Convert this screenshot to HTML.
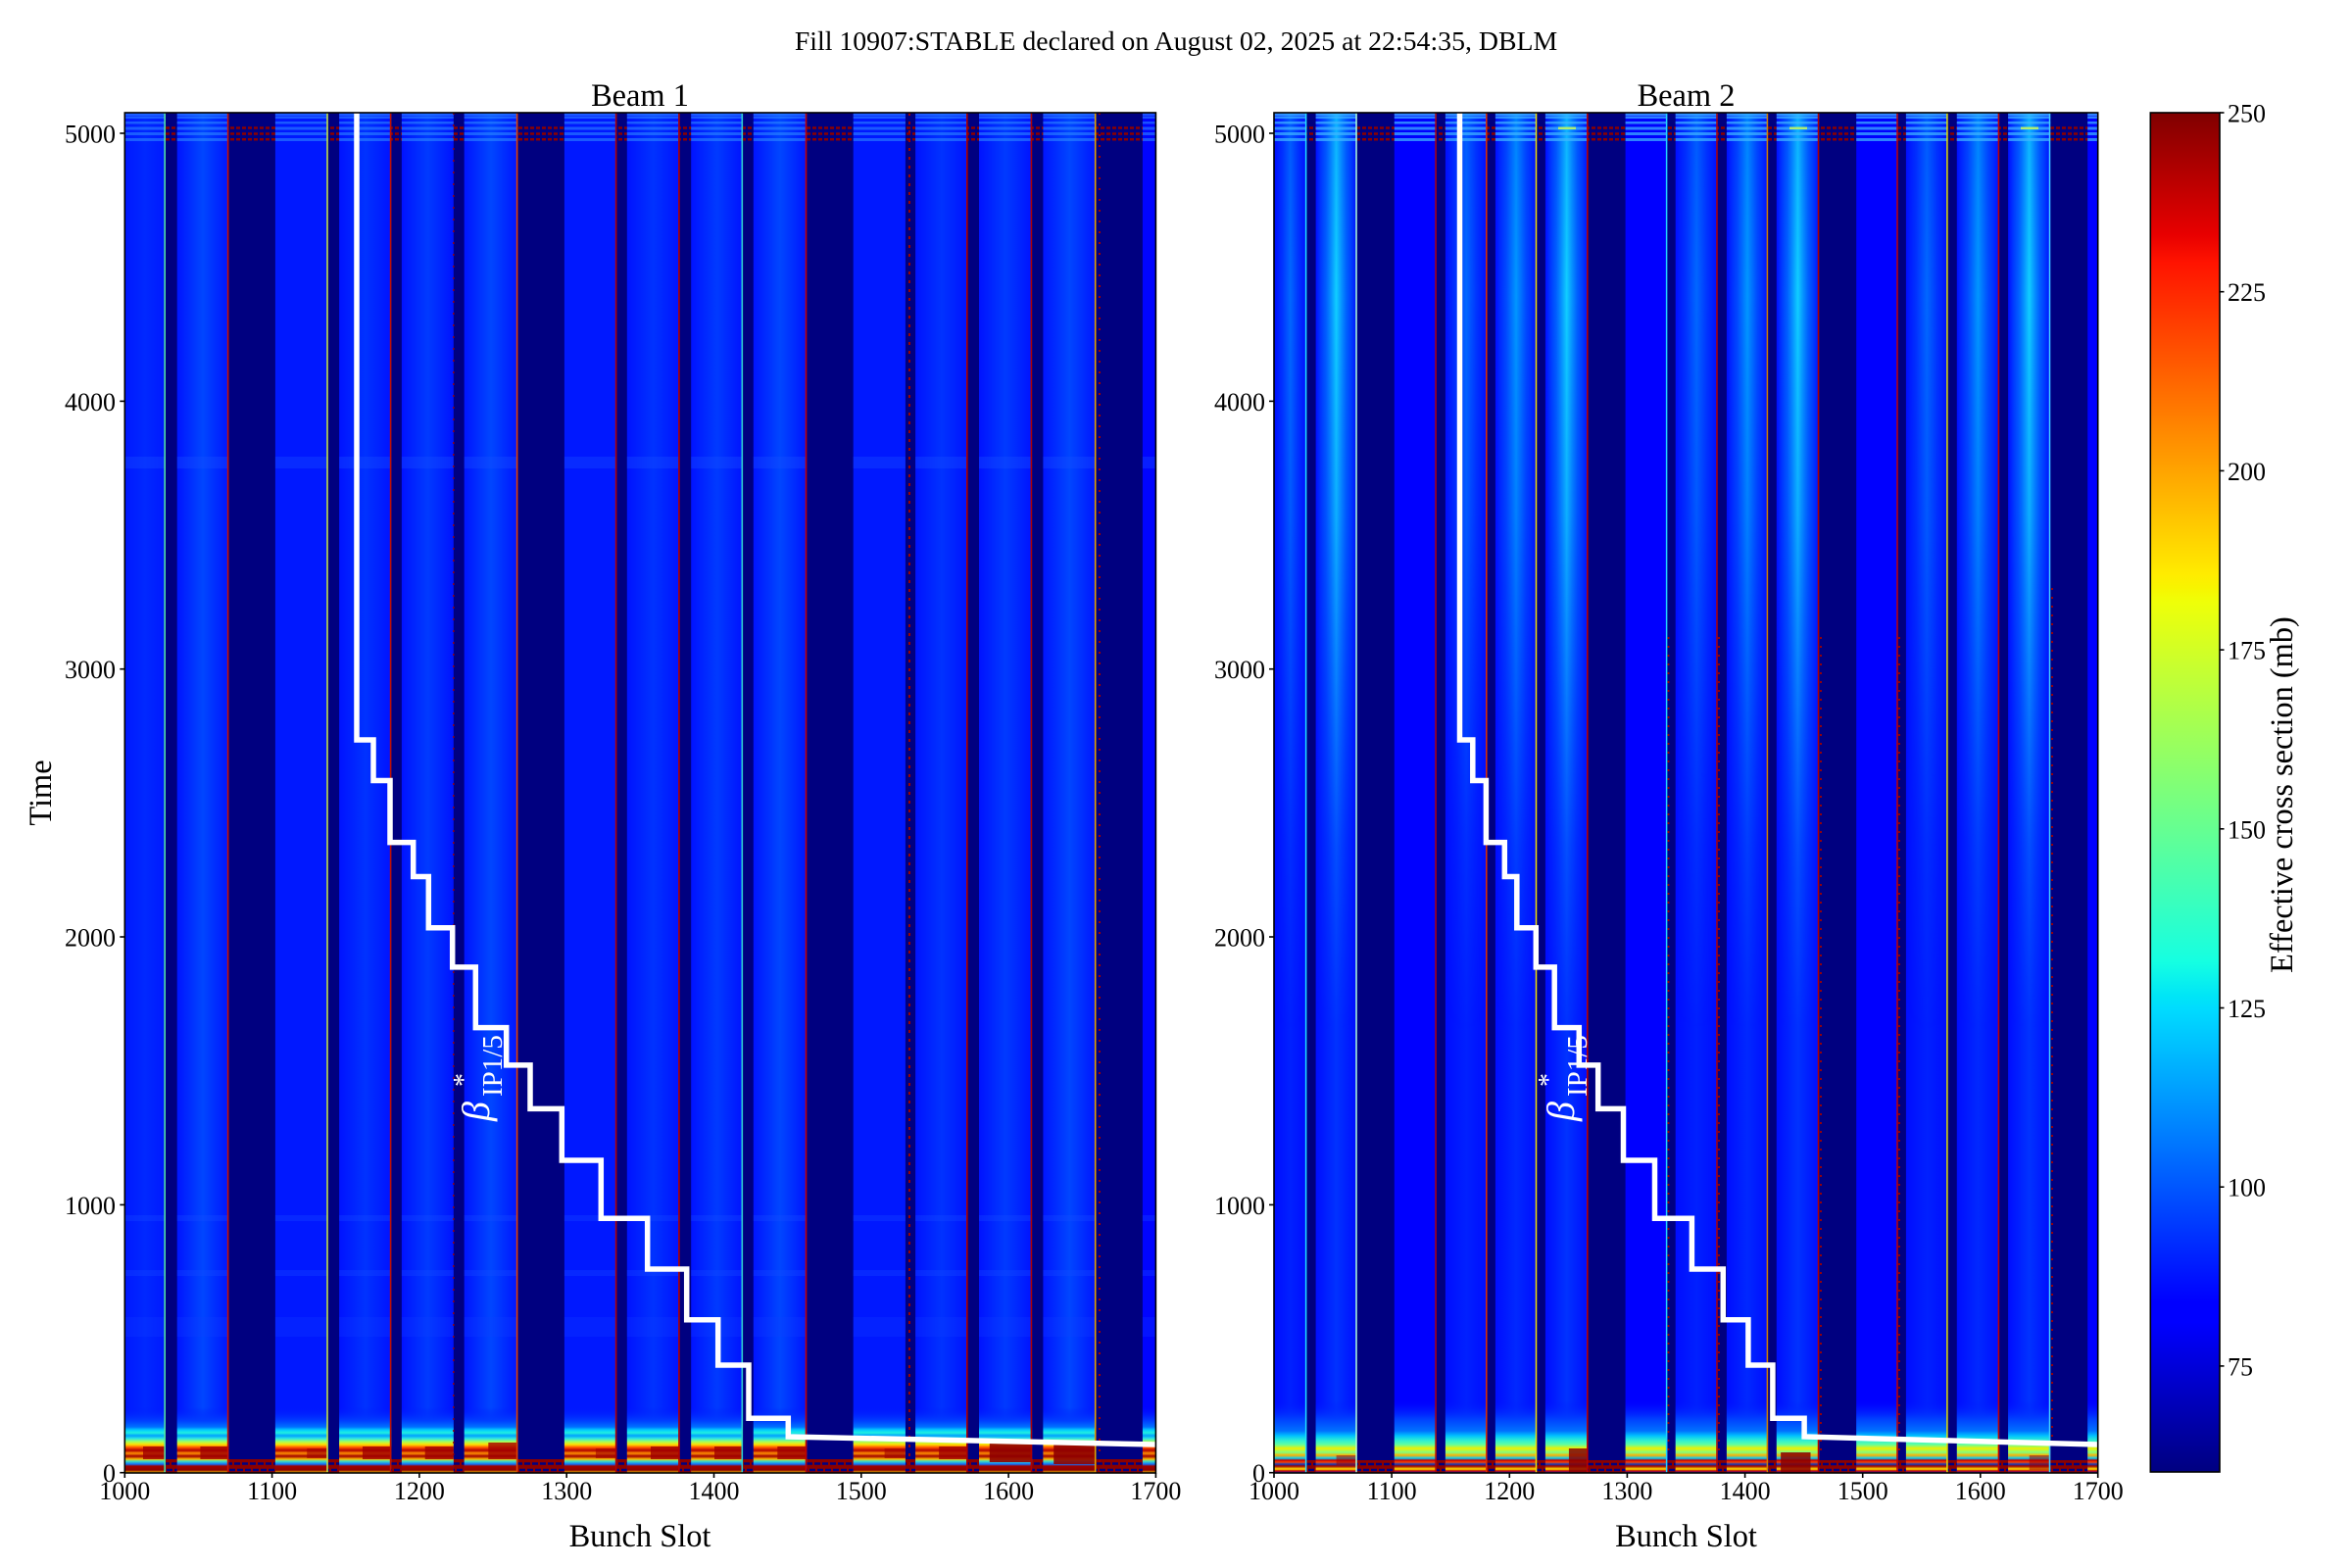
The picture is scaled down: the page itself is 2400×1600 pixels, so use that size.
<!DOCTYPE html>
<html>
<head>
<meta charset="utf-8">
<style>
html,body{margin:0;padding:0;background:#fff;}
body{width:2400px;height:1600px;overflow:hidden;}
svg{display:block;}
text{font-family:"Liberation Serif","DejaVu Serif",serif;fill:#000;}
</style>
</head>
<body>
<svg width="2400" height="1600" viewBox="0 0 2400 1600" xmlns="http://www.w3.org/2000/svg">
<defs>
  <clipPath id="ax1"><rect x="127.3" y="115" width="1052.1" height="1388"/></clipPath>
  <clipPath id="ax2"><rect x="1300" y="115" width="840.7" height="1388"/></clipPath>
  <clipPath id="tr1">
    <rect x="127.3" y="115" width="41.6" height="1388"/>
    <rect x="180.7" y="115" width="52.6" height="1388"/>
    <rect x="280.9" y="115" width="53.8" height="1388"/>
    <rect x="346.1" y="115" width="53.2" height="1388"/>
    <rect x="409.9" y="115" width="52.9" height="1388"/>
    <rect x="473.7" y="115" width="54.6" height="1388"/>
    <rect x="575.9" y="115" width="53.4" height="1388"/>
    <rect x="639.8" y="115" width="53.8" height="1388"/>
    <rect x="705.2" y="115" width="52.8" height="1388"/>
    <rect x="768.8" y="115" width="54.4" height="1388"/>
    <rect x="870.7" y="115" width="53.2" height="1388"/>
    <rect x="934.1" y="115" width="53.4" height="1388"/>
    <rect x="999" y="115" width="54.1" height="1388"/>
    <rect x="1064.4" y="115" width="54" height="1388"/>
    <rect x="1165.9" y="115" width="13.5" height="1388"/>
  </clipPath>
  <clipPath id="tr2">
    <rect x="1300" y="115" width="33.3" height="1388"/>
    <rect x="1342.6" y="115" width="42.1" height="1388"/>
    <rect x="1422.8" y="115" width="43" height="1388"/>
    <rect x="1474.9" y="115" width="42.6" height="1388"/>
    <rect x="1525.9" y="115" width="42.3" height="1388"/>
    <rect x="1576.9" y="115" width="43.6" height="1388"/>
    <rect x="1658.6" y="115" width="42.7" height="1388"/>
    <rect x="1709.7" y="115" width="43" height="1388"/>
    <rect x="1761.9" y="115" width="42.2" height="1388"/>
    <rect x="1812.8" y="115" width="43.4" height="1388"/>
    <rect x="1894.2" y="115" width="42.5" height="1388"/>
    <rect x="1944.9" y="115" width="42.7" height="1388"/>
    <rect x="1996.8" y="115" width="43.3" height="1388"/>
    <rect x="2049.1" y="115" width="43.1" height="1388"/>
    <rect x="2130.2" y="115" width="10.5" height="1388"/>
  </clipPath>

  <linearGradient id="jet" x1="0" y1="1" x2="0" y2="0">
    <stop offset="0" stop-color="#000080"/>
    <stop offset="0.11" stop-color="#0000ff"/>
    <stop offset="0.125" stop-color="#0000ff"/>
    <stop offset="0.34" stop-color="#00dbff"/>
    <stop offset="0.35" stop-color="#00e5f7"/>
    <stop offset="0.375" stop-color="#15ffe2"/>
    <stop offset="0.64" stop-color="#efff08"/>
    <stop offset="0.65" stop-color="#f7f500"/>
    <stop offset="0.66" stop-color="#ffec00"/>
    <stop offset="0.89" stop-color="#ff1300"/>
    <stop offset="0.91" stop-color="#e80000"/>
    <stop offset="1" stop-color="#800000"/>
  </linearGradient>

  <linearGradient id="f10" x1="0" x2="1" y1="0" y2="0"><stop offset="0" stop-color="#0018ff"/><stop offset=".5" stop-color="#0028ff"/><stop offset="1" stop-color="#0018ff"/></linearGradient>
  <linearGradient id="f1B" x1="0" x2="1" y1="0" y2="0"><stop offset="0" stop-color="#0012ff"/><stop offset=".5" stop-color="#0032ff"/><stop offset="1" stop-color="#0012ff"/></linearGradient>
  <linearGradient id="f1C" x1="0" x2="1" y1="0" y2="0"><stop offset="0" stop-color="#0012ff"/><stop offset=".5" stop-color="#003aff"/><stop offset="1" stop-color="#0012ff"/></linearGradient>
  <linearGradient id="f1D" x1="0" x2="1" y1="0" y2="0"><stop offset="0" stop-color="#0014ff"/><stop offset=".5" stop-color="#0046ff"/><stop offset="1" stop-color="#0014ff"/></linearGradient>

  <linearGradient id="f2B" x1="0" x2="1" y1="0" y2="0"><stop offset="0" stop-color="#000cff"/><stop offset=".5" stop-color="#0020ff"/><stop offset="1" stop-color="#000cff"/></linearGradient>
  <linearGradient id="f2C" x1="0" x2="1" y1="0" y2="0"><stop offset="0" stop-color="#000cff"/><stop offset=".5" stop-color="#0028ff"/><stop offset="1" stop-color="#000cff"/></linearGradient>
  <linearGradient id="f2D" x1="0" x2="1" y1="0" y2="0"><stop offset="0" stop-color="#000cff"/><stop offset=".5" stop-color="#0032ff"/><stop offset="1" stop-color="#000cff"/></linearGradient>

  <linearGradient id="o2B" x1="0" x2="1" y1="0" y2="0"><stop offset="0" stop-color="#0060ff" stop-opacity="0"/><stop offset=".25" stop-color="#0060ff" stop-opacity=".4"/><stop offset=".5" stop-color="#0068ff" stop-opacity="1"/><stop offset=".75" stop-color="#0060ff" stop-opacity=".4"/><stop offset="1" stop-color="#0060ff" stop-opacity="0"/></linearGradient>
  <linearGradient id="o2C" x1="0" x2="1" y1="0" y2="0"><stop offset="0" stop-color="#0090ff" stop-opacity="0"/><stop offset=".25" stop-color="#0080ff" stop-opacity=".45"/><stop offset=".5" stop-color="#0098ff" stop-opacity="1"/><stop offset=".75" stop-color="#0080ff" stop-opacity=".45"/><stop offset="1" stop-color="#0090ff" stop-opacity="0"/></linearGradient>
  <linearGradient id="o2D" x1="0" x2="1" y1="0" y2="0"><stop offset="0" stop-color="#00b0ff" stop-opacity="0"/><stop offset=".25" stop-color="#00a0ff" stop-opacity=".5"/><stop offset=".5" stop-color="#10d0ff" stop-opacity="1"/><stop offset=".75" stop-color="#00a0ff" stop-opacity=".5"/><stop offset="1" stop-color="#00b0ff" stop-opacity="0"/></linearGradient>

  <linearGradient id="vf" gradientUnits="userSpaceOnUse" x1="0" y1="115" x2="0" y2="1050">
    <stop offset="0" stop-color="#d0d0d0"/>
    <stop offset=".2" stop-color="#ffffff"/>
    <stop offset=".44" stop-color="#cccccc"/>
    <stop offset=".62" stop-color="#808080"/>
    <stop offset=".8" stop-color="#303030"/>
    <stop offset="1" stop-color="#000000"/>
  </linearGradient>
  <mask id="m2" maskUnits="userSpaceOnUse" x="1300" y="115" width="841" height="1388">
    <rect x="1300" y="115" width="841" height="940" fill="url(#vf)"/>
  </mask>

  <linearGradient id="b1" gradientUnits="userSpaceOnUse" x1="0" y1="1436" x2="0" y2="1503">
    <stop offset="0" stop-color="#0018ff" stop-opacity="0"/>
    <stop offset=".209" stop-color="#0040ff"/>
    <stop offset=".299" stop-color="#0070ff"/>
    <stop offset=".343" stop-color="#00c8ff"/>
    <stop offset=".388" stop-color="#20f0e0"/>
    <stop offset=".433" stop-color="#00a0ff"/>
    <stop offset=".478" stop-color="#30e8e0"/>
    <stop offset=".522" stop-color="#a0ff60"/>
    <stop offset=".567" stop-color="#ffe000"/>
    <stop offset=".612" stop-color="#ff5000"/>
    <stop offset=".657" stop-color="#b00000"/>
    <stop offset=".701" stop-color="#ff9000"/>
    <stop offset=".746" stop-color="#a00000"/>
    <stop offset=".791" stop-color="#ffc000"/>
    <stop offset=".821" stop-color="#40e0c0"/>
    <stop offset=".866" stop-color="#1070ff"/>
    <stop offset=".896" stop-color="#a00000"/>
    <stop offset=".955" stop-color="#900000"/>
    <stop offset="1" stop-color="#f0d000"/>
  </linearGradient>
  <linearGradient id="b2" gradientUnits="userSpaceOnUse" x1="0" y1="1430" x2="0" y2="1503">
    <stop offset="0" stop-color="#0018ff" stop-opacity="0"/>
    <stop offset=".247" stop-color="#0040ff"/>
    <stop offset=".411" stop-color="#0070ff"/>
    <stop offset=".479" stop-color="#00c0ff"/>
    <stop offset=".548" stop-color="#30f0d0"/>
    <stop offset=".603" stop-color="#60ffa0"/>
    <stop offset=".658" stop-color="#f0f000"/>
    <stop offset=".712" stop-color="#80ff80"/>
    <stop offset=".753" stop-color="#ffb000"/>
    <stop offset=".795" stop-color="#00d0ff"/>
    <stop offset=".822" stop-color="#c00000"/>
    <stop offset=".849" stop-color="#ff4000"/>
    <stop offset=".877" stop-color="#1040c0"/>
    <stop offset=".904" stop-color="#a00000"/>
    <stop offset=".945" stop-color="#ffe000"/>
    <stop offset=".973" stop-color="#c00000"/>
    <stop offset="1" stop-color="#1030ff"/>
  </linearGradient>
</defs>

<text x="1200" y="51" font-size="27.8" text-anchor="middle">Fill 10907:STABLE declared on August 02, 2025 at 22:54:35, DBLM</text>

<!-- BEAM 1 -->
<text x="653" y="108" font-size="32.4" text-anchor="middle">Beam 1</text>
<g clip-path="url(#ax1)">
  <rect x="127.3" y="115" width="1052.1" height="1388" fill="#000080"/>
  <g stroke="#8c0000" stroke-width="2.5" stroke-dasharray="4 2" fill="none">
    <line x1="127" y1="130.5" x2="1180" y2="130.5"/>
    <line x1="127" y1="136.5" x2="1180" y2="136.5"/>
    <line x1="127" y1="142.3" x2="1180" y2="142.3"/>
  </g>
  <rect x="127.3" y="1489" width="1052.1" height="14" fill="#8c0000"/>
  <g stroke="#000080" stroke-width="2.5" stroke-dasharray="6 2" fill="none">
    <line x1="127" y1="1493.5" x2="1180" y2="1493.5"/>
    <line x1="130" y1="1500" x2="1180" y2="1500"/>
  </g>
  <rect x="127.3" y="115" width="41.6" height="1388" fill="url(#f10)"/>
  <rect x="180.7" y="115" width="52.6" height="1388" fill="url(#f1D)"/>
  <rect x="280.9" y="115" width="53.8" height="1388" fill="#0018ff"/>
  <rect x="346.1" y="115" width="53.2" height="1388" fill="url(#f1B)"/>
  <rect x="409.9" y="115" width="52.9" height="1388" fill="url(#f1C)"/>
  <rect x="473.7" y="115" width="54.6" height="1388" fill="url(#f1D)"/>
  <rect x="575.9" y="115" width="53.4" height="1388" fill="#0018ff"/>
  <rect x="639.8" y="115" width="53.8" height="1388" fill="url(#f1B)"/>
  <rect x="705.2" y="115" width="52.8" height="1388" fill="url(#f1C)"/>
  <rect x="768.8" y="115" width="54.4" height="1388" fill="url(#f1D)"/>
  <rect x="870.7" y="115" width="53.2" height="1388" fill="#0018ff"/>
  <rect x="934.1" y="115" width="53.4" height="1388" fill="url(#f1B)"/>
  <rect x="999" y="115" width="54.1" height="1388" fill="url(#f1C)"/>
  <rect x="1064.4" y="115" width="54" height="1388" fill="url(#f1D)"/>
  <rect x="1165.9" y="115" width="13.5" height="1388" fill="#0004ff"/>
  <g clip-path="url(#tr1)">
    <g fill="#3090ff" opacity=".55">
      <rect x="127" y="115" width="1053" height="3"/>
      <rect x="127" y="118.5" width="1053" height="2.5"/>
      <rect x="127" y="124" width="1053" height="2.5"/>
      <rect x="127" y="129.5" width="1053" height="3"/>
      <rect x="127" y="135" width="1053" height="3"/>
      <rect x="127" y="141" width="1053" height="3"/>
    </g>
    <rect x="127" y="466" width="1053" height="12" fill="#1850ff" opacity=".35"/>
    <rect x="127" y="1240" width="1053" height="6" fill="#1850ff" opacity=".3"/>
    <rect x="127" y="1296" width="1053" height="6" fill="#1850ff" opacity=".3"/>
    <rect x="127" y="1344" width="1053" height="20" fill="#1040ff" opacity=".25"/>
    <rect x="127.3" y="1436" width="1052.1" height="67" fill="url(#b1)"/>
    <g fill="#a00000" opacity=".8">
      <rect x="146.0" y="1476" width="22.9" height="13"/>
      <rect x="204.4" y="1476" width="28.9" height="13"/>
      <rect x="370.0" y="1476" width="29.3" height="13"/>
      <rect x="433.7" y="1476" width="29.1" height="13"/>
      <rect x="498.3" y="1472" width="30.0" height="17"/>
      <rect x="664.0" y="1476" width="29.6" height="13"/>
      <rect x="729.0" y="1476" width="29.0" height="13"/>
      <rect x="793.3" y="1476" width="29.9" height="13"/>
      <rect x="958.1" y="1476" width="29.4" height="13"/>
    </g>
    <g fill="#900000" opacity=".9">
      <rect x="1009.8" y="1470" width="43.3" height="22"/>
      <rect x="1075.2" y="1472" width="43.2" height="22"/>
    </g>
    <g fill="#a00000" opacity=".6">
      <rect x="313.2" y="1478" width="21.5" height="10"/>
      <rect x="607.9" y="1478" width="21.4" height="10"/>
      <rect x="902.6" y="1478" width="21.3" height="10"/>
    </g>
  </g>
  <g stroke-width="1.6" fill="none">
    <line x1="168.2" y1="115" x2="168.2" y2="1503" stroke="#50e0a0"/>
    <line x1="232.6" y1="115" x2="232.6" y2="1503" stroke="#c81000"/>
    <line x1="334" y1="115" x2="334" y2="1503" stroke="#c0e040"/>
    <line x1="398.6" y1="115" x2="398.6" y2="1503" stroke="#c01000"/>
    <line x1="462.8" y1="115" x2="462.8" y2="1503" stroke="#a00000" stroke-width="1.3" stroke-dasharray="2 10"/>
    <line x1="527.6" y1="115" x2="527.6" y2="1503" stroke="#e04000"/>
    <line x1="628.6" y1="115" x2="628.6" y2="1503" stroke="#b00000"/>
    <line x1="692.9" y1="115" x2="692.9" y2="1503" stroke="#b00000"/>
    <line x1="757.3" y1="115" x2="757.3" y2="1503" stroke="#30d0d0"/>
    <line x1="822.5" y1="115" x2="822.5" y2="1503" stroke="#c00000"/>
    <line x1="928" y1="115" x2="928" y2="1503" stroke="#a00000" stroke-width="2" stroke-dasharray="3 6"/>
    <line x1="986.8" y1="115" x2="986.8" y2="1503" stroke="#b00000"/>
    <line x1="1052.4" y1="115" x2="1052.4" y2="1503" stroke="#b00000"/>
    <line x1="1117.7" y1="115" x2="1117.7" y2="1503" stroke="#e0a000"/>
    <line x1="1122" y1="115" x2="1122" y2="1503" stroke="#a00000" stroke-width="2" stroke-dasharray="2 9"/>
  </g>
  <polyline fill="none" stroke="#ffffff" stroke-width="5.5" stroke-linejoin="miter"
    points="364,110 364,755 381,755 381,796.5 398,796.5 398,859.6 421.7,859.6 421.7,894.5 437.3,894.5 437.3,946.7 461.7,946.7 461.7,986.9 485.3,986.9 485.3,1048.6 516.7,1048.6 516.7,1086.9 541,1086.9 541,1131.4 573.3,1131.4 573.3,1184 613.3,1184 613.3,1243.3 660.7,1243.3 660.7,1295 700.7,1295 700.7,1346.7 732.7,1346.7 732.7,1393 764,1393 764,1447.2 804.3,1447.2 804.3,1466 1185,1474.1"/>
  <text transform="translate(499,1144) rotate(-90)" font-size="40" font-style="italic" style="fill:#fff">β</text>
  <text transform="translate(482,1109) rotate(-90)" font-size="28" style="fill:#fff">*</text>
  <text transform="translate(512,1119) rotate(-90)" font-size="29" style="fill:#fff">IP1/5</text>
</g>
<rect x="127.3" y="115" width="1052.1" height="1388" fill="none" stroke="#000" stroke-width="1.6"/>
<g stroke="#000" stroke-width="1.6">
  <line x1="127.3" y1="1503" x2="127.3" y2="1508"/>
  <line x1="277.6" y1="1503" x2="277.6" y2="1508"/>
  <line x1="427.9" y1="1503" x2="427.9" y2="1508"/>
  <line x1="578.2" y1="1503" x2="578.2" y2="1508"/>
  <line x1="728.5" y1="1503" x2="728.5" y2="1508"/>
  <line x1="878.8" y1="1503" x2="878.8" y2="1508"/>
  <line x1="1029.1" y1="1503" x2="1029.1" y2="1508"/>
  <line x1="1179.4" y1="1503" x2="1179.4" y2="1508"/>
  <line x1="122.3" y1="1502.7" x2="127.3" y2="1502.7"/>
  <line x1="122.3" y1="1229.4" x2="127.3" y2="1229.4"/>
  <line x1="122.3" y1="956" x2="127.3" y2="956"/>
  <line x1="122.3" y1="682.7" x2="127.3" y2="682.7"/>
  <line x1="122.3" y1="409.4" x2="127.3" y2="409.4"/>
  <line x1="122.3" y1="136" x2="127.3" y2="136"/>
</g>
<g font-size="26" text-anchor="middle">
  <text x="127.3" y="1530">1000</text>
  <text x="277.6" y="1530">1100</text>
  <text x="427.9" y="1530">1200</text>
  <text x="578.2" y="1530">1300</text>
  <text x="728.5" y="1530">1400</text>
  <text x="878.8" y="1530">1500</text>
  <text x="1029.1" y="1530">1600</text>
  <text x="1179.4" y="1530">1700</text>
</g>
<g font-size="26" text-anchor="end">
  <text x="118" y="1512.2">0</text>
  <text x="118" y="1238.9">1000</text>
  <text x="118" y="965.5">2000</text>
  <text x="118" y="692.2">3000</text>
  <text x="118" y="418.9">4000</text>
  <text x="118" y="145.5">5000</text>
</g>
<text x="653" y="1578" font-size="32.4" text-anchor="middle">Bunch Slot</text>
<text transform="translate(52,809) rotate(-90)" font-size="32.4" text-anchor="middle">Time</text>

<!-- BEAM 2 -->
<text x="1720.5" y="108" font-size="32.4" text-anchor="middle">Beam 2</text>
<g clip-path="url(#ax2)">
  <rect x="1300" y="115" width="840.7" height="1388" fill="#000080"/>
  <g stroke="#8c0000" stroke-width="2.5" stroke-dasharray="4 2" fill="none">
    <line x1="1300" y1="130.5" x2="2141" y2="130.5"/>
    <line x1="1300" y1="136.5" x2="2141" y2="136.5"/>
    <line x1="1300" y1="142.3" x2="2141" y2="142.3"/>
  </g>
  <rect x="1300" y="1490" width="840.7" height="13" fill="#8c0000"/>
  <g stroke="#000080" stroke-width="2.5" stroke-dasharray="6 2" fill="none">
    <line x1="1300" y1="1494" x2="2141" y2="1494"/>
    <line x1="1303" y1="1500" x2="2141" y2="1500"/>
  </g>
  <rect x="1300" y="115" width="33.3" height="1388" fill="url(#f2B)"/>
  <rect x="1342.6" y="115" width="42.1" height="1388" fill="url(#f2D)"/>
  <rect x="1422.8" y="115" width="43" height="1388" fill="#0000ff"/>
  <rect x="1474.9" y="115" width="42.6" height="1388" fill="url(#f2B)"/>
  <rect x="1525.9" y="115" width="42.3" height="1388" fill="url(#f2C)"/>
  <rect x="1576.9" y="115" width="43.6" height="1388" fill="url(#f2D)"/>
  <rect x="1658.6" y="115" width="42.7" height="1388" fill="#0000ff"/>
  <rect x="1709.7" y="115" width="43" height="1388" fill="url(#f2B)"/>
  <rect x="1761.9" y="115" width="42.2" height="1388" fill="url(#f2C)"/>
  <rect x="1812.8" y="115" width="43.4" height="1388" fill="url(#f2D)"/>
  <rect x="1894.2" y="115" width="42.5" height="1388" fill="#0000ff"/>
  <rect x="1944.9" y="115" width="42.7" height="1388" fill="url(#f2B)"/>
  <rect x="1996.8" y="115" width="43.3" height="1388" fill="url(#f2C)"/>
  <rect x="2049.1" y="115" width="43.1" height="1388" fill="url(#f2D)"/>
  <rect x="2130.2" y="115" width="10.5" height="1388" fill="#0000ff"/>
  <g mask="url(#m2)">
    <rect x="1300" y="115" width="33.3" height="940" fill="url(#o2B)"/>
    <rect x="1342.6" y="115" width="42.1" height="940" fill="url(#o2D)"/>
    <rect x="1474.9" y="115" width="42.6" height="940" fill="url(#o2B)"/>
    <rect x="1525.9" y="115" width="42.3" height="940" fill="url(#o2C)"/>
    <rect x="1576.9" y="115" width="43.6" height="940" fill="url(#o2D)"/>
    <rect x="1709.7" y="115" width="43" height="940" fill="url(#o2B)"/>
    <rect x="1761.9" y="115" width="42.2" height="940" fill="url(#o2C)"/>
    <rect x="1812.8" y="115" width="43.4" height="940" fill="url(#o2D)"/>
    <rect x="1944.9" y="115" width="42.7" height="940" fill="url(#o2B)"/>
    <rect x="1996.8" y="115" width="43.3" height="940" fill="url(#o2C)"/>
    <rect x="2049.1" y="115" width="43.1" height="940" fill="url(#o2D)"/>
  </g>
  <g clip-path="url(#tr2)">
    <g fill="#40b8ff" opacity=".7">
      <rect x="1300" y="115" width="841" height="3"/>
      <rect x="1300" y="118.5" width="841" height="2.5"/>
      <rect x="1300" y="124" width="841" height="2.5"/>
      <rect x="1300" y="129.5" width="841" height="3"/>
      <rect x="1300" y="135" width="841" height="3"/>
      <rect x="1300" y="141" width="841" height="3"/>
    </g>
    <g fill="#d0ff50" opacity=".8">
      <rect x="1590" y="129.5" width="18" height="2.5"/>
      <rect x="1826" y="129.5" width="18" height="2.5"/>
      <rect x="2062" y="129.5" width="18" height="2.5"/>
    </g>
    <rect x="1300" y="1430" width="840.7" height="73" fill="url(#b2)"/>
    <g fill="#8a0000" opacity=".85">
      <rect x="1600.9" y="1478" width="19.6" height="25"/>
      <rect x="1817.1" y="1482" width="30.4" height="21"/>
    </g>
    <g fill="#a00000" opacity=".55">
      <rect x="2070.7" y="1485" width="21.5" height="15"/>
      <rect x="1363.6" y="1485" width="21" height="10"/>
    </g>
  </g>
  <g stroke-width="1.5" fill="none">
    <line x1="1332.6" y1="115" x2="1332.6" y2="1503" stroke="#20e0ff"/>
    <line x1="1384" y1="115" x2="1384" y2="1503" stroke="#b0ffd0"/>
    <line x1="1465.1" y1="115" x2="1465.1" y2="1503" stroke="#b00000"/>
    <line x1="1516.8" y1="115" x2="1516.8" y2="1503" stroke="#e03000"/>
    <line x1="1567.5" y1="115" x2="1567.5" y2="1503" stroke="#f0e000"/>
    <line x1="1619.8" y1="115" x2="1619.8" y2="1503" stroke="#c00000"/>
    <line x1="1700.6" y1="115" x2="1700.6" y2="1503" stroke="#20d0ff"/>
    <line x1="1752" y1="115" x2="1752" y2="1503" stroke="#b00000"/>
    <line x1="1803.4" y1="115" x2="1803.4" y2="1503" stroke="#d08000"/>
    <line x1="1855.5" y1="115" x2="1855.5" y2="1503" stroke="#b00000"/>
    <line x1="1936" y1="115" x2="1936" y2="1503" stroke="#c00000"/>
    <line x1="1986.9" y1="115" x2="1986.9" y2="1503" stroke="#e0e000"/>
    <line x1="2039.4" y1="115" x2="2039.4" y2="1503" stroke="#c00000"/>
    <line x1="2091.5" y1="115" x2="2091.5" y2="1503" stroke="#40d0ff"/>
    <g stroke="#a00000" stroke-width="1.8" stroke-dasharray="2 7">
      <line x1="1702.5" y1="650" x2="1702.5" y2="1480"/>
      <line x1="1754" y1="650" x2="1754" y2="1480"/>
      <line x1="1858" y1="650" x2="1858" y2="1480"/>
      <line x1="1938" y1="650" x2="1938" y2="1480"/>
      <line x1="2094" y1="600" x2="2094" y2="1480"/>
    </g>
  </g>
  <polyline fill="none" stroke="#ffffff" stroke-width="5.5" stroke-linejoin="miter"
    points="1489.5,110 1489.5,755 1502.8,755 1502.8,796.5 1516.4,796.5 1516.4,859.6 1535.3,859.6 1535.3,894.5 1547.8,894.5 1547.8,946.7 1567.3,946.7 1567.3,986.9 1586.2,986.9 1586.2,1048.6 1611.3,1048.6 1611.3,1086.9 1630.7,1086.9 1630.7,1131.4 1656.5,1131.4 1656.5,1184 1688.5,1184 1688.5,1243.3 1726.4,1243.3 1726.4,1295 1758.3,1295 1758.3,1346.7 1783.9,1346.7 1783.9,1393 1808.9,1393 1808.9,1447.2 1841.1,1447.2 1841.1,1466 2146,1474.1"/>
  <text transform="translate(1606,1144) rotate(-90)" font-size="40" font-style="italic" style="fill:#fff">β</text>
  <text transform="translate(1589,1109) rotate(-90)" font-size="28" style="fill:#fff">*</text>
  <text transform="translate(1619,1119) rotate(-90)" font-size="29" style="fill:#fff">IP1/5</text>
</g>
<rect x="1300" y="115" width="840.7" height="1388" fill="none" stroke="#000" stroke-width="1.6"/>
<g stroke="#000" stroke-width="1.6">
  <line x1="1300" y1="1503" x2="1300" y2="1508"/>
  <line x1="1420.1" y1="1503" x2="1420.1" y2="1508"/>
  <line x1="1540.3" y1="1503" x2="1540.3" y2="1508"/>
  <line x1="1660.4" y1="1503" x2="1660.4" y2="1508"/>
  <line x1="1780.6" y1="1503" x2="1780.6" y2="1508"/>
  <line x1="1900.7" y1="1503" x2="1900.7" y2="1508"/>
  <line x1="2020.8" y1="1503" x2="2020.8" y2="1508"/>
  <line x1="2140.7" y1="1503" x2="2140.7" y2="1508"/>
  <line x1="1295" y1="1502.7" x2="1300" y2="1502.7"/>
  <line x1="1295" y1="1229.4" x2="1300" y2="1229.4"/>
  <line x1="1295" y1="956" x2="1300" y2="956"/>
  <line x1="1295" y1="682.7" x2="1300" y2="682.7"/>
  <line x1="1295" y1="409.4" x2="1300" y2="409.4"/>
  <line x1="1295" y1="136" x2="1300" y2="136"/>
</g>
<g font-size="26" text-anchor="middle">
  <text x="1300" y="1530">1000</text>
  <text x="1420.1" y="1530">1100</text>
  <text x="1540.3" y="1530">1200</text>
  <text x="1660.4" y="1530">1300</text>
  <text x="1780.6" y="1530">1400</text>
  <text x="1900.7" y="1530">1500</text>
  <text x="2020.8" y="1530">1600</text>
  <text x="2140.7" y="1530">1700</text>
</g>
<g font-size="26" text-anchor="end">
  <text x="1291" y="1512.2">0</text>
  <text x="1291" y="1238.9">1000</text>
  <text x="1291" y="965.5">2000</text>
  <text x="1291" y="692.2">3000</text>
  <text x="1291" y="418.9">4000</text>
  <text x="1291" y="145.5">5000</text>
</g>
<text x="1720.5" y="1578" font-size="32.4" text-anchor="middle">Bunch Slot</text>

<!-- COLORBAR -->
<rect x="2194.3" y="115" width="70.7" height="1387" fill="url(#jet)" stroke="#000" stroke-width="1.6"/>
<g stroke="#000" stroke-width="1.6">
  <line x1="2265" y1="115" x2="2269.5" y2="115"/>
  <line x1="2265" y1="297.7" x2="2269.5" y2="297.7"/>
  <line x1="2265" y1="480.4" x2="2269.5" y2="480.4"/>
  <line x1="2265" y1="663.1" x2="2269.5" y2="663.1"/>
  <line x1="2265" y1="845.8" x2="2269.5" y2="845.8"/>
  <line x1="2265" y1="1028.5" x2="2269.5" y2="1028.5"/>
  <line x1="2265" y1="1211.2" x2="2269.5" y2="1211.2"/>
  <line x1="2265" y1="1393.9" x2="2269.5" y2="1393.9"/>
</g>
<g font-size="26">
  <text x="2273" y="124.5">250</text>
  <text x="2273" y="307.2">225</text>
  <text x="2273" y="489.9">200</text>
  <text x="2273" y="672.6">175</text>
  <text x="2273" y="855.3">150</text>
  <text x="2273" y="1038">125</text>
  <text x="2273" y="1220.7">100</text>
  <text x="2273" y="1403.4">75</text>
</g>
<text transform="translate(2339,811) rotate(-90)" font-size="32.4" text-anchor="middle">Effective cross section (mb)</text>
</svg>
</body>
</html>
